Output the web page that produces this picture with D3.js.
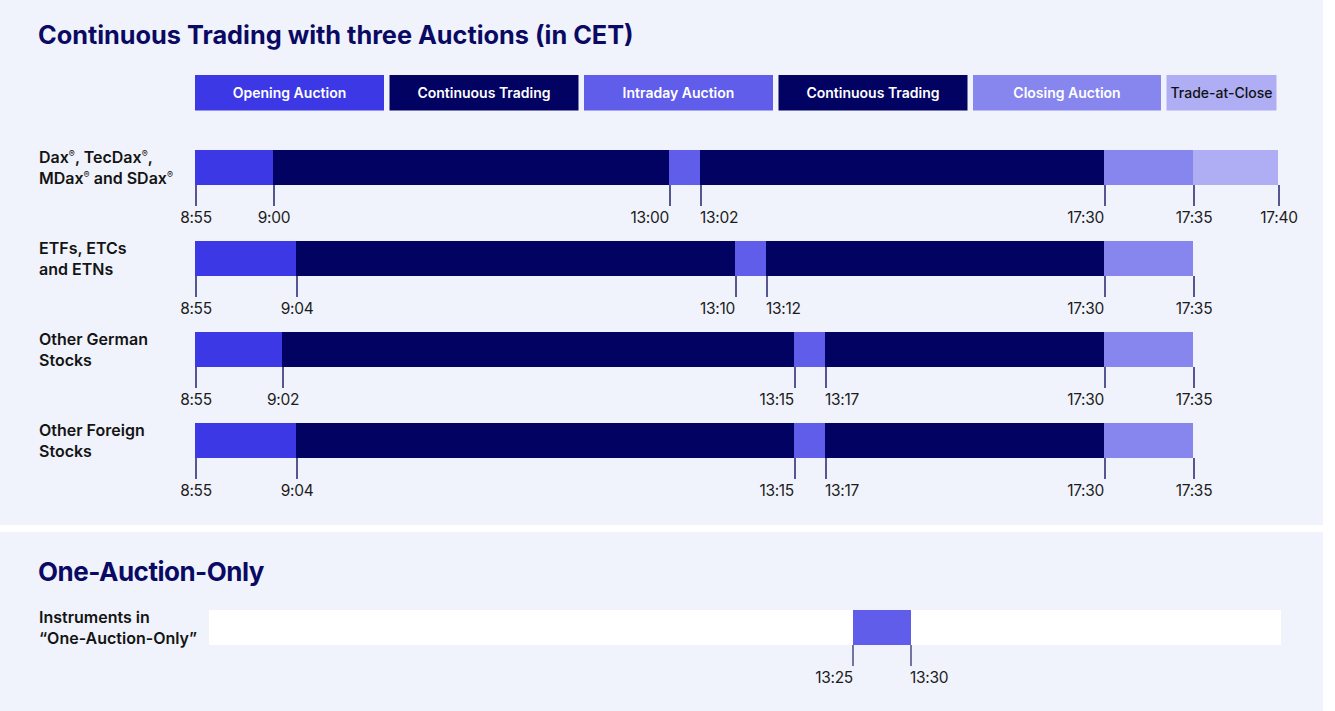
<!DOCTYPE html>
<html>
<head>
<meta charset="utf-8">
<script src="https://cdn.jsdelivr.net/npm/d3@7/dist/d3.min.js"></script>
<style>
  body { margin: 0; background: #ffffff; }
  svg { display: block; font-family: Inter, "Noto Sans", sans-serif; }
</style>
</head>
<body>
<div id="chart"></div>
<script>
// phases shown in the legend
var phases = ["Opening Auction", "Continuous Trading", "Intraday Auction", "Continuous Trading", "Closing Auction", "Trade-at-Close"];
var phaseKeys = ["open", "cont", "intra", "cont", "close", "tac"];

// instrument groups (two lines each)
var rowLabels = [
  ["Dax®, TecDax®,", "MDax® and SDax®"],
  ["ETFs, ETCs", "and ETNs"],
  ["Other German", "Stocks"],
  ["Other Foreign", "Stocks"]
];

// times per row
var openStart = ["8:55", "8:55", "8:55", "8:55"];
var openEnd = ["9:00", "9:04", "9:02", "9:04"];
var intraStart = ["13:00", "13:10", "13:15", "13:15"];
var intraEnd = ["13:02", "13:12", "13:17", "13:17"];
var closeStart = ["17:30", "17:30", "17:30", "17:30"];
var closeEnd = ["17:35", "17:35", "17:35", "17:35"];
var tacEnd = ["17:40", null, null, null];

// one-auction-only
var oaoLabel = ["Instruments in", "\u201cOne-Auction-Only\u201d"];
var oaoStart = "13:25";
var oaoEnd = "13:30";
var oaoDay = ["8:55", "17:40"];

var colors = {
  open: "#3c38e5",
  cont: "#020262",
  intra: "#5f5de9",
  close: "#8786ee",
  tac: "#afaef5"
};

function toMin(t) {
  var p = t.split(":");
  return +p[0] * 60 + +p[1];
}

var W = 1335, H = 711;

var svg = d3.select("#chart")
  .append("svg")
  .attr("width", W)
  .attr("height", H);

// panels
svg.append("rect").attr("x", 0).attr("y", 0).attr("width", 1323).attr("height", 525).attr("fill", "#f0f3fb");
svg.append("rect").attr("x", 0).attr("y", 532).attr("width", 1323).attr("height", H - 532).attr("fill", "#f0f3fb");

svg.append("text")
  .attr("x", 38)
  .attr("y", 44)
  .attr("font-size", "25.3px")
  .attr("font-weight", 700)
  .attr("fill", "#0a0a64")
  .text("Continuous Trading with three Auctions (in CET)");

// schematic (not proportional) time scale
var x = d3.scaleLinear()
  .domain(["8:55", "9:00", "9:02", "9:04", "13:00", "13:02", "13:10", "13:12", "13:15", "13:17", "17:30", "17:35", "17:40"].map(toMin))
  .range([195, 273, 282, 296, 669, 700, 735, 766, 794, 825, 1104, 1193, 1278]);

var y = d3.scaleBand()
  .domain(d3.range(rowLabels.length))
  .range([150, 458])
  .paddingInner(56 / 91)
  .paddingOuter(0);

// legend
var legendW = [189, 189, 189, 189, 188, 110];
var lx = 195;
var legend = svg.append("g").attr("class", "legend");
phases.forEach(function (p, i) {
  var g = legend.append("g").attr("transform", "translate(" + lx + ",75)");
  g.append("rect")
    .attr("width", legendW[i])
    .attr("height", 35.5)
    .attr("fill", colors[phaseKeys[i]]);
  g.append("text")
    .attr("x", legendW[i] / 2)
    .attr("y", 23)
    .attr("text-anchor", "middle")
    .attr("font-size", "14px")
    .attr("font-weight", phaseKeys[i] == "tac" ? 500 : 600)
    .attr("fill", phaseKeys[i] == "tac" ? "#111111" : "#ffffff")
    .text(p);
  lx += legendW[i] + 5.5;
});

function addLabel(g, lines, x0, y0, lh) {
  var t = g.append("text")
    .attr("font-size", "16px")
    .attr("font-weight", 600)
    .attr("fill", "#141414");
  lines.forEach(function (line, li) {
    var parts = line.split("®");
    parts.forEach(function (part, pi) {
      var ts = t.append("tspan").text(part);
      if (pi == 0) ts.attr("x", x0).attr("y", y0 + li * lh);
      else ts.attr("dy", 6);
      if (pi < parts.length - 1) {
        t.append("tspan").attr("dy", -6).attr("font-size", "9px").attr("font-weight", 400).text("®");
      }
    });
  });
}

// rows
var rows = svg.append("g").attr("class", "rows");

rowLabels.forEach(function (lab, i) {
  var g = rows.append("g");
  var top = y(i), bh = y.bandwidth(), bottom = top + bh;

  var segs = [
    { k: "open", a: openStart[i], b: openEnd[i] },
    { k: "cont", a: openEnd[i], b: intraStart[i] },
    { k: "intra", a: intraStart[i], b: intraEnd[i] },
    { k: "cont", a: intraEnd[i], b: closeStart[i] },
    { k: "close", a: closeStart[i], b: closeEnd[i] }
  ];
  if (tacEnd[i]) segs.push({ k: "tac", a: closeEnd[i], b: tacEnd[i] });

  g.selectAll("rect")
    .data(segs)
    .enter()
    .append("rect")
    .attr("x", function (d) { return x(toMin(d.a)); })
    .attr("y", top)
    .attr("width", function (d) { return x(toMin(d.b)) - x(toMin(d.a)); })
    .attr("height", bh)
    .attr("fill", function (d) { return colors[d.k]; });

  var ticks = [
    { t: openStart[i], anchor: "middle" },
    { t: openEnd[i], anchor: "middle" },
    { t: intraStart[i], anchor: "end" },
    { t: intraEnd[i], anchor: "start" },
    { t: closeStart[i], anchor: "end" },
    { t: closeEnd[i], anchor: "middle" }
  ];
  if (tacEnd[i]) ticks.push({ t: tacEnd[i], anchor: "middle" });

  var tk = g.selectAll(".tick")
    .data(ticks)
    .enter()
    .append("g")
    .attr("class", "tick")
    .attr("transform", function (d) { return "translate(" + (x(toMin(d.t)) + 1) + ",0)"; });

  tk.append("line")
    .attr("y1", bottom)
    .attr("y2", bottom + 21)
    .attr("stroke", "#23236e")
    .attr("stroke-width", 1.5);

  tk.append("text")
    .attr("x", function (d) { return d.anchor == "end" ? -1 : (d.anchor == "start" ? -1 : 0); })
    .attr("y", bottom + 38)
    .attr("text-anchor", function (d) { return d.anchor; })
    .attr("font-size", "15.5px")
    .attr("fill", "#1c1c1c")
    .attr("letter-spacing", "-0.3px")
    .text(function (d) { return d.t; });

  addLabel(g, lab, 39, top + 13, 21);
});

// One-Auction-Only section
svg.append("text")
  .attr("x", 38)
  .attr("y", 581)
  .attr("font-size", "26px")
  .attr("font-weight", 700)
  .attr("letter-spacing", "-0.5px")
  .attr("fill", "#0a0a64")
  .text("One-Auction-Only");

var x2 = d3.scaleLinear()
  .domain([oaoDay[0], oaoStart, oaoEnd, oaoDay[1]].map(toMin))
  .range([209, 853, 911, 1281]);

var oao = svg.append("g");
var oTop = 610, oH = 35;

oao.append("rect")
  .attr("x", x2(toMin(oaoDay[0])))
  .attr("y", oTop)
  .attr("width", x2(toMin(oaoDay[1])) - x2(toMin(oaoDay[0])))
  .attr("height", oH)
  .attr("fill", "#ffffff");

oao.append("rect")
  .attr("x", x2(toMin(oaoStart)))
  .attr("y", oTop)
  .attr("width", x2(toMin(oaoEnd)) - x2(toMin(oaoStart)))
  .attr("height", oH)
  .attr("fill", colors.intra);

var oTicks = [{ t: oaoStart, anchor: "end" }, { t: oaoEnd, anchor: "start" }];
var otk = oao.selectAll(".tick")
  .data(oTicks)
  .enter()
  .append("g")
  .attr("class", "tick")
  .attr("transform", function (d) { return "translate(" + x2(toMin(d.t)) + ",0)"; });

otk.append("line")
  .attr("y1", oTop + oH)
  .attr("y2", oTop + oH + 21)
  .attr("stroke", "#4a4a85")
  .attr("stroke-width", 1.5);

otk.append("text")
  .attr("x", function (d) { return d.anchor == "start" ? -1 : 0; })
  .attr("y", oTop + oH + 38)
  .attr("text-anchor", function (d) { return d.anchor; })
  .attr("font-size", "15.5px")
  .attr("fill", "#1c1c1c")
  .attr("letter-spacing", "-0.3px")
  .text(function (d) { return d.t; });

addLabel(oao, oaoLabel, 39, 623, 21);
</script>
</body>
</html>
